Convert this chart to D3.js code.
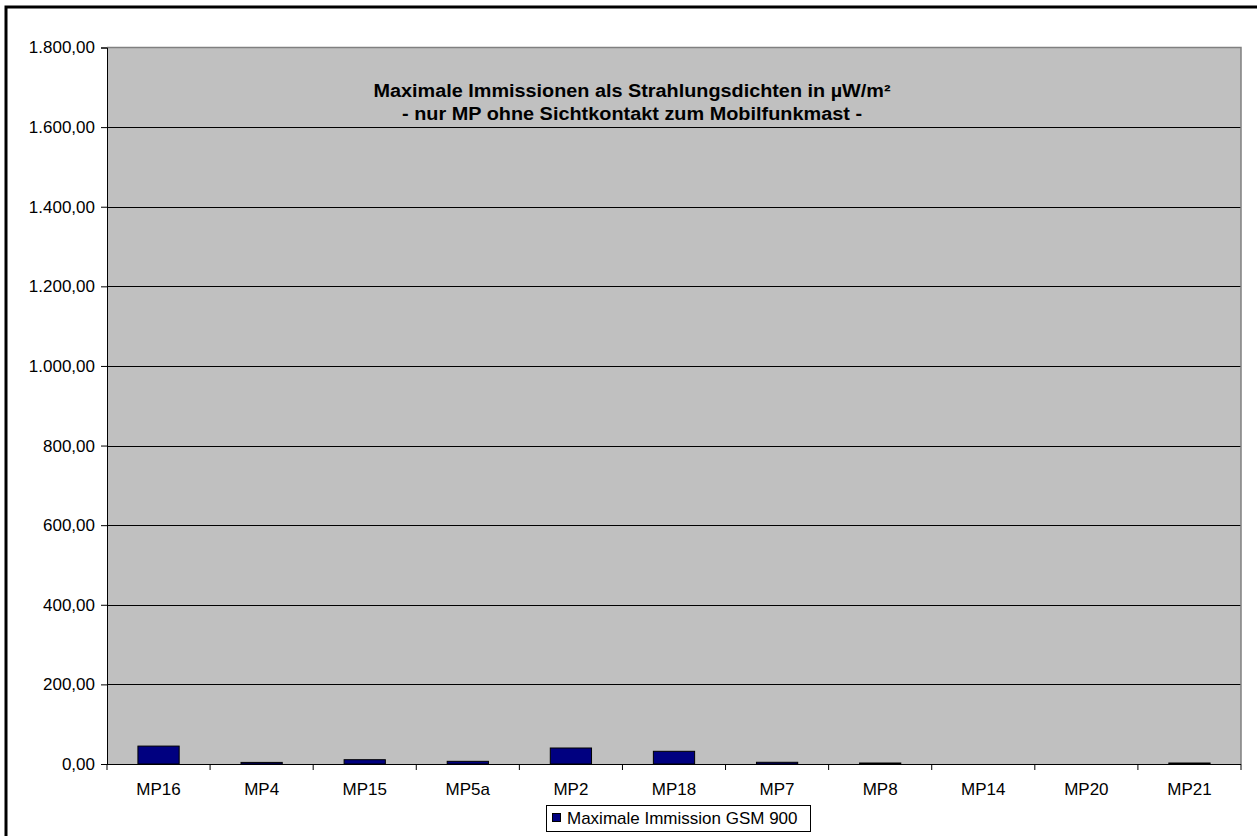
<!DOCTYPE html>
<html>
<head>
<meta charset="utf-8">
<script src="https://cdn.jsdelivr.net/npm/d3@7/dist/d3.min.js"></script>
<style>
  html, body { margin: 0; padding: 0; background: #fff; }
  svg { display: block; font-family: Arial, "Liberation Sans", sans-serif; }
</style>
</head>
<body>
<svg id="chart" width="1257" height="836"></svg>
<script>
// Messpunkte und maximale Immission (µW/m²), GSM 900
const categories = ["MP16", "MP4", "MP15", "MP5a", "MP2", "MP18", "MP7", "MP8", "MP14", "MP20", "MP21"];
const gsm900 = [45.0, 4.0, 10.8, 6.7, 40.2, 31.9, 4.3, 2.5, 0.0, 0.0, 2.5];
const yTicks = [0, 200, 400, 600, 800, 1000, 1200, 1400, 1600, 1800];
const titleLines = ["Maximale Immissionen als Strahlungsdichten in µW/m²", "- nur MP ohne Sichtkontakt zum Mobilfunkmast -"];
const seriesName = "Maximale Immission GSM 900";

const svg = d3.select("#chart");
const plot = { left: 107, top: 47.5, right: 1241, bottom: 764 };
const fontFamily = "Arial, 'Liberation Sans', sans-serif";

// Outer frame (only left and top edges fall inside the canvas)
svg.append("rect")
  .attr("x", 6).attr("y", 7)
  .attr("width", 1300).attr("height", 900)
  .attr("fill", "none").attr("stroke", "#000").attr("stroke-width", 3);

const x = d3.scaleBand().domain(categories).range([plot.left, plot.right]).paddingInner(0).paddingOuter(0);
const y = d3.scaleLinear().domain([0, 1800]).range([plot.bottom, plot.top]);

// Plot area background
svg.append("rect")
  .attr("x", plot.left).attr("y", plot.top)
  .attr("width", plot.right - plot.left).attr("height", plot.bottom - plot.top)
  .attr("fill", "#c0c0c0");

// Gridlines
svg.append("g").selectAll("line")
  .data(yTicks.filter(t => t > 0 && t < 1800))
  .join("line")
  .attr("x1", plot.left).attr("x2", plot.right)
  .attr("y1", d => Math.round(y(d)) + 0.5).attr("y2", d => Math.round(y(d)) + 0.5)
  .attr("stroke", "#000").attr("stroke-width", 1);

// Plot area border (top & right in grey)
svg.append("path")
  .attr("d", `M${plot.left},${plot.top} H${plot.right} V${plot.bottom}`)
  .attr("fill", "none").attr("stroke", "#808080").attr("stroke-width", 1.5);

// Bars: width = band / (1 + gap 150%)
const barW = x.bandwidth() / 2.5;
svg.append("g").selectAll("rect")
  .data(categories.map((c, i) => ({ c, v: gsm900[i] })))
  .join("rect")
  .attr("x", d => x(d.c) + (x.bandwidth() - barW) / 2)
  .attr("y", d => y(d.v))
  .attr("width", barW)
  .attr("height", d => y(0) - y(d.v))
  .attr("fill", "#000080")
  .attr("stroke", "#000").attr("stroke-width", 1);

// Y axis
const deLocale = d3.formatLocale({ decimal: ",", thousands: ".", grouping: [3], currency: ["", "€"] });
const yAxis = d3.axisLeft(y)
  .tickValues(yTicks)
  .tickSize(6)
  .tickPadding(6)
  .tickFormat(d => deLocale.format(",.2f")(d));
const gy = svg.append("g").attr("transform", `translate(${plot.left},0)`).call(yAxis);
gy.select(".domain").attr("stroke", "#000");
gy.selectAll(".tick line").attr("stroke", "#000");
gy.selectAll("text").attr("font-size", 17).attr("fill", "#000").attr("font-family", fontFamily);

// X axis: ticks at band boundaries, labels centered in bands
svg.append("line")
  .attr("x1", plot.left).attr("x2", plot.right)
  .attr("y1", plot.bottom + 0.5).attr("y2", plot.bottom + 0.5)
  .attr("stroke", "#000");
svg.append("g").selectAll("line")
  .data(categories.map(c => x(c)).concat([plot.right]))
  .join("line")
  .attr("x1", d => d).attr("x2", d => d)
  .attr("y1", plot.bottom).attr("y2", plot.bottom + 6)
  .attr("stroke", "#000");
svg.append("g").selectAll("text")
  .data(categories)
  .join("text")
  .attr("x", d => x(d) + x.bandwidth() / 2)
  .attr("y", 795)
  .attr("text-anchor", "middle")
  .attr("font-size", 17)
  .text(d => d);

// Title
const titleWidths = [517, 460];
svg.append("g").selectAll("text")
  .data(titleLines)
  .join("text")
  .attr("x", 632)
  .attr("y", (d, i) => 97 + i * 23)
  .attr("text-anchor", "middle")
  .attr("font-size", 18)
  .attr("font-weight", "bold")
  .attr("textLength", (d, i) => titleWidths[i])
  .attr("lengthAdjust", "spacingAndGlyphs")
  .text(d => d);

// Legend
const lg = svg.append("g");
lg.append("rect")
  .attr("x", 546.5).attr("y", 805.5).attr("width", 264).attr("height", 26)
  .attr("fill", "#fff").attr("stroke", "#000");
lg.append("rect")
  .attr("x", 552.5).attr("y", 813.5).attr("width", 8).attr("height", 8)
  .attr("fill", "#000080").attr("stroke", "#000");
lg.append("text")
  .attr("x", 567).attr("y", 824)
  .attr("font-size", 17)
  .text(seriesName);
</script>
</body>
</html>
